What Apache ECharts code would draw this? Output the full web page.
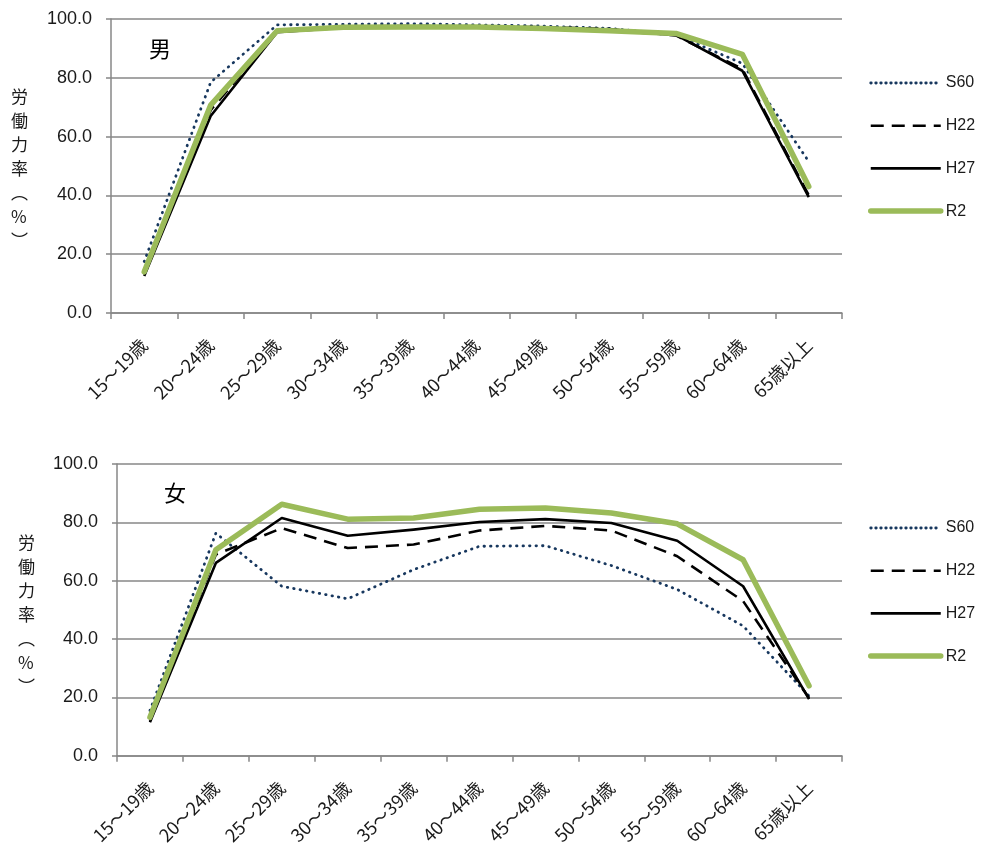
<!DOCTYPE html>
<html><head><meta charset="utf-8">
<script src="https://cdn.jsdelivr.net/npm/echarts@6/dist/echarts.min.js"></script>
<style>html,body{margin:0;padding:0;background:#fff}#c{width:981px;height:847px}</style>
</head><body><div id="c"></div>
<script>
const categories = ['15～19歳','20～24歳','25～29歳','30～34歳','35～39歳','40～44歳','45～49歳','50～54歳','55～59歳','60～64歳','65歳以上'];
const seriesNames = ['S60','H22','H27','R2'];
const yTicks = [0,20,40,60,80,100];
// 男
const maleS60 = [17.5,78.5,98.0,98.2,98.4,98.0,97.6,96.8,94.6,84.9,51.5];
const maleH22 = [13.5,69.0,95.8,97.5,97.6,97.5,97.2,96.6,94.4,83.0,40.0];
const maleH27 = [12.6,67.0,95.5,97.0,97.2,97.2,96.8,96.0,94.6,82.4,39.4];
const maleR2  = [14.0,70.7,96.0,97.2,97.3,97.3,96.8,96.0,95.1,88.0,43.0];
// 女
const femaleS60 = [15.5,76.3,58.1,53.8,63.8,71.8,72.0,65.2,57.0,44.5,20.5];
const femaleH22 = [12.0,69.0,78.0,71.2,72.4,77.2,78.8,77.2,68.4,53.0,19.8];
const femaleH27 = [11.5,66.1,81.5,75.4,77.5,80.1,81.1,79.8,73.7,58.1,19.4];
const femaleR2  = [13.2,70.6,86.2,81.1,81.5,84.5,84.9,83.2,79.5,67.2,24.0];
const panelTitles = ['男','女'];
const yAxisName = '労\n働\n力\n率\n︵\n%\n︶';

const styles = {
  S60: {color:'#17375E', width:2.8, type:[0.5,6], cap:'round', z:2},
  H22: {color:'#000000', width:2.6, type:[13,8], cap:'butt', z:3},
  H27: {color:'#000000', width:2.6, type:'solid', cap:'butt', z:4},
  R2:  {color:'#9BBB59', width:5.5, type:'solid', cap:'round', z:5}
};
const gridColor = '#878787';
const textColor = '#1a1a1a';
const numFont = '"Liberation Sans", Arial, sans-serif';
const jpFont = '"Noto Sans CJK JP", sans-serif';

function mkSeries(idx, data){
  return seriesNames.map((n,i)=>{
    const s = styles[n];
    return {
      name:n, type:'line', xAxisIndex:idx, yAxisIndex:idx, data:data[i],
      symbol:'none', z:s.z, silent:true,
      lineStyle:{color:s.color, width:s.width, type:s.type, cap:s.cap, join:'round'},
      itemStyle:{color:s.color}
    };
  });
}

const grids = [
  {left:111, top:19, width:731, height:294},
  {left:117, top:464, width:725, height:293}
];

function mkX(i){
  return {type:'category', gridIndex:i, data:categories, boundaryGap:true,
    axisLine:{show:true, lineStyle:{color:gridColor, width:1.5}},
    axisTick:{show:true, length:6, interval:0, lineStyle:{color:gridColor, width:1.5}},
    axisLabel:{interval:0, rotate:45, margin:29, color:textColor, fontSize:18, fontFamily:jpFont}
  };
}
function mkY(i){
  return {type:'value', gridIndex:i, min:yTicks[0], max:yTicks[yTicks.length-1], interval:20,
    axisLine:{show:true, lineStyle:{color:gridColor, width:1.5}},
    axisTick:{show:true, length:5, lineStyle:{color:gridColor, width:1.5}},
    splitLine:{show:true, lineStyle:{color:gridColor, width:1.5}},
    axisLabel:{margin:19, color:textColor, fontSize:18, fontFamily:numFont, formatter:v=>v.toFixed(1)}
  };
}

function mkLegend(top){
  return {orient:'vertical', left:863, top:top, itemWidth:70, itemHeight:14, itemGap:26.7,
    selectedMode:false,
    itemStyle:{opacity:0},
    data:seriesNames.map(n=>{
      const s = styles[n];
      const t = n==='S60' ? [0.5,4.5] : s.type;
      return {name:n, itemStyle:{opacity:0}, lineStyle:{color:s.color, width:s.width, type:t, cap:s.cap}};
    }),
    textStyle:{color:textColor, fontSize:16, fontFamily:numFont}};
}

const option = {
  animation:false,
  backgroundColor:'#fff',
  grid:grids,
  xAxis:[mkX(0), mkX(1)],
  yAxis:[mkY(0), mkY(1)],
  legend:[mkLegend(70), mkLegend(515)],
  series:[...mkSeries(0,[maleS60,maleH22,maleH27,maleR2]), ...mkSeries(1,[femaleS60,femaleH22,femaleH27,femaleR2])],
  graphic:[
    {type:'text', left:149, top:38, style:{text:panelTitles[0], fill:'#000', font:'22px '+jpFont}},
    {type:'text', left:164, top:482, style:{text:panelTitles[1], fill:'#000', font:'22px '+jpFont}},
    {type:'text', left:11, top:85, style:{text:yAxisName, fill:textColor, font:'17px '+jpFont, lineHeight:24}},
    {type:'text', left:18, top:531, style:{text:yAxisName, fill:textColor, font:'17px '+jpFont, lineHeight:24}}
  ]
};
const chart = echarts.init(document.getElementById('c'), null, {renderer:'canvas'});
chart.setOption(option);
</script></body></html>
